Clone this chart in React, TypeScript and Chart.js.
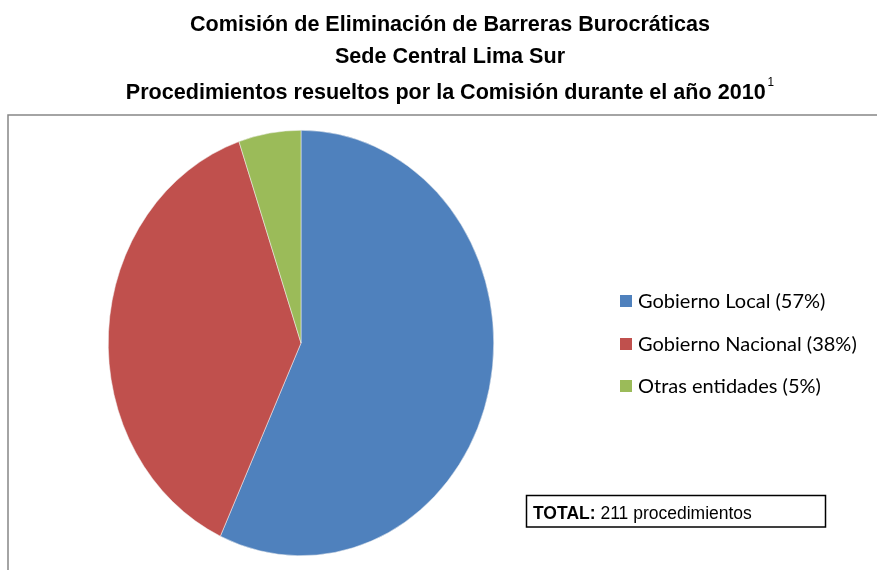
import React, { useEffect, useRef } from "react";
import { Chart, registerables } from "chart.js";

Chart.register(...registerables);

const titleLines = [
  "Comisión de Eliminación de Barreras Burocráticas",
  "Sede Central Lima Sur",
  "Procedimientos resueltos por la Comisión durante el año 2010",
];
const titleSup = "1";
const categories = ["Gobierno Local (57%)", "Gobierno Nacional (38%)", "Otras entidades (5%)"];
const procedimientos = [120, 80, 11];
const colors = ["#4F81BD", "#C0504D", "#9BBB59"];
const totalLabel = "TOTAL:";
const totalText = " 211 procedimientos";

const W = 877;
const H = 570;

const decorPlugin = {
  id: "decor",
  beforeDraw(chart: any) {
    const ctx = chart.ctx;
    ctx.save();
    ctx.fillStyle = "#ffffff";
    ctx.fillRect(0, 0, W, H);
    // outer border
    ctx.strokeStyle = "#868686";
    ctx.lineWidth = 1.5;
    ctx.strokeRect(8, 115, 1000, 600);
    // titles
    ctx.fillStyle = "#000";
    ctx.textBaseline = "alphabetic";
    const titleFont = 'bold 22px "Liberation Sans", Arial, sans-serif';
    const supFont = '12px "Liberation Sans", Arial, sans-serif';
    const sx = 0.98;
    const ys = [30.5, 62.5, 98.5];
    const cx = 450;
    const gap = 2;
    titleLines.forEach((t, i) => {
      ctx.font = titleFont;
      const w = ctx.measureText(t).width * sx;
      let total = w;
      if (i === 2) {
        ctx.font = supFont;
        total = w + gap + ctx.measureText(titleSup).width * sx;
      }
      const x0 = cx - total / 2;
      ctx.save();
      ctx.translate(x0, ys[i]);
      ctx.scale(sx, 1);
      ctx.textAlign = "left";
      ctx.font = titleFont;
      ctx.fillText(t, 0, 0);
      ctx.restore();
      if (i === 2) {
        ctx.save();
        ctx.translate(x0 + w + gap, ys[i] - 12.5);
        ctx.scale(sx, 1);
        ctx.textAlign = "left";
        ctx.font = supFont;
        ctx.fillText(titleSup, 0, 0);
        ctx.restore();
      }
    });
    ctx.restore();
  },
  beforeDatasetsDraw(chart: any) {
    const ctx = chart.ctx;
    const a = chart.chartArea;
    const cx = (a.left + a.right) / 2;
    const cy = (a.top + a.bottom) / 2;
    ctx.save();
    ctx.translate(cx, cy);
    ctx.scale(1, 213 / 193);
    ctx.translate(-cx, -cy);
  },
  afterDatasetsDraw(chart: any) {
    const ctx = chart.ctx;
    ctx.restore();
    ctx.save();
    // legend
    const labels = chart.data.labels as string[];
    const bg = chart.data.datasets[0].backgroundColor as string[];
    const ly = [301, 344, 386];
    ctx.font = '20px Lato, "Open Sans", sans-serif';
    ctx.textBaseline = "middle";
    ctx.textAlign = "left";
    labels.forEach((l, i) => {
      ctx.fillStyle = bg[i];
      ctx.fillRect(620, ly[i] - 6, 12, 12);
      ctx.fillStyle = "#000";
      ctx.fillText(l, 638, ly[i] + 1);
    });
    // total box
    ctx.strokeStyle = "#000";
    ctx.lineWidth = 1.5;
    ctx.strokeRect(526.5, 495.5, 299, 31.5);
    ctx.fillStyle = "#000";
    ctx.textBaseline = "alphabetic";
    ctx.font = 'bold 17.5px "Liberation Sans", Arial, sans-serif';
    ctx.fillText(totalLabel, 533, 518.5);
    const tw = ctx.measureText(totalLabel).width;
    ctx.font = '17.5px "Liberation Sans", Arial, sans-serif';
    ctx.fillText(totalText, 533 + tw, 518.5);
    ctx.restore();
  },
};

export default function App() {
  const ref = useRef<HTMLCanvasElement>(null);
  useEffect(() => {
    if (!ref.current) return;
    const chart = new Chart(ref.current, {
      type: "pie",
      data: {
        labels: categories,
        datasets: [
          {
            data: procedimientos,
            backgroundColor: colors,
            borderColor: "#f2f2f2",
            borderWidth: 0.5,
          },
        ],
      },
      options: {
        animation: false,
        responsive: false,
        maintainAspectRatio: false,
        layout: { padding: { left: 108, right: W - 494, top: 150, bottom: H - 536 } },
        plugins: {
          legend: { display: false },
          title: { display: false },
          tooltip: { enabled: false },
        },
      },
      plugins: [decorPlugin],
    });
    return () => chart.destroy();
  }, []);
  return (
    <div style={{ position: "absolute", left: 0, top: 0, width: W, height: H, background: "#fff" }}>
      <canvas ref={ref} width={W} height={H} style={{ width: W, height: H, display: "block" }} />
    </div>
  );
}
